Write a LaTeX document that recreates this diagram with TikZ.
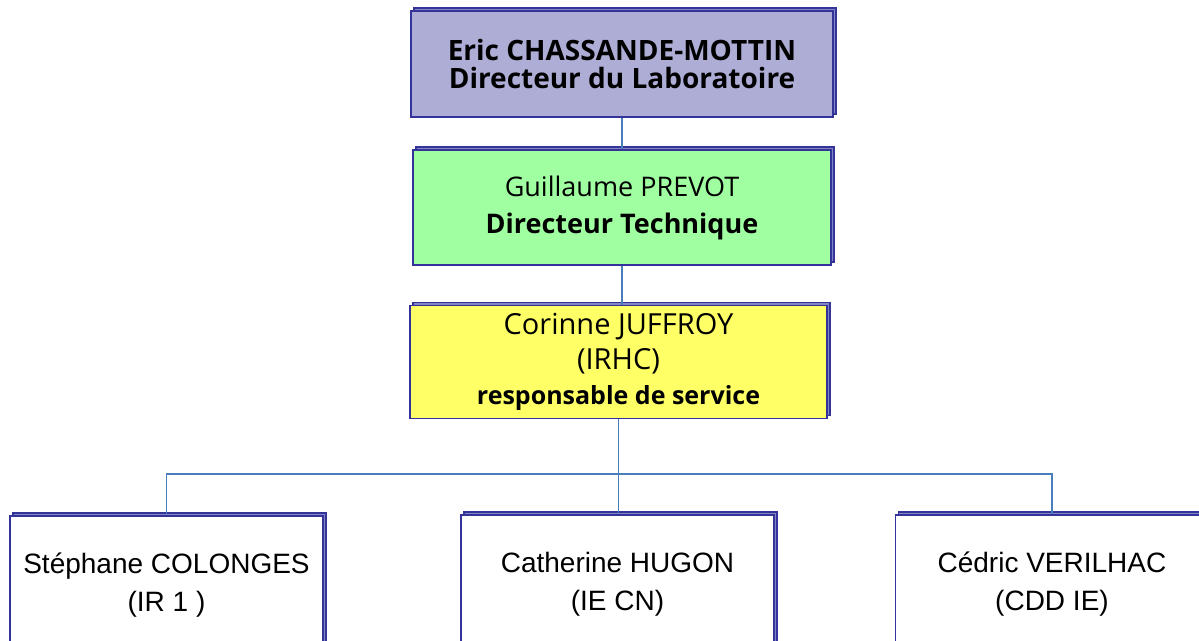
\documentclass[tikz,border=0pt]{standalone}
\usepackage{fontspec}
\setmainfont{Liberation Sans}
\newfontfamily\comicfont{Open Sans}
\definecolor{orgblue}{RGB}{51,51,153}
\definecolor{orglavender}{RGB}{173,173,214}
\definecolor{orggreen}{RGB}{160,255,160}
\definecolor{orgyellow}{RGB}{255,255,102}
\definecolor{orgline}{RGB}{74,126,187}
\usetikzlibrary{positioning,shadows}

\begin{document}
\begin{tikzpicture}[x=0.5pt,y=-0.5pt,
  box/.style={draw=orgblue,line width=0.6pt,align=center,inner sep=0pt,
    copy shadow={shadow xshift=1.5pt,shadow yshift=1.5pt,draw=orgblue,fill=orgblue!60,line width=0.6pt}},
  conn/.style={draw=orgline,line width=0.9pt}]
  \useasboundingbox (0,0) rectangle (1199,641);
  \clip (0,0) rectangle (1199,641);
  % Direction
  \node[box,fill=orglavender,minimum width=211pt,minimum height=53pt,
    font=\comicfont\bfseries\fontsize{14}{14}\selectfont] (lab) at (622,64)
    {Eric CHASSANDE-MOTTIN\\Directeur du Laboratoire};
  \node[box,fill=orggreen,minimum width=209pt,minimum height=57.5pt,
    font=\comicfont\fontsize{13.5}{18.5}\selectfont] (tech) at (622,207.5)
    {Guillaume PREVOT\\\textbf{Directeur Technique}};
  \node[box,fill=orgyellow,minimum width=208.5pt,minimum height=56.5pt,
    font=\comicfont\fontsize{14.5}{17.5}\selectfont] (resp) at (618.5,362)
    {Corinne JUFFROY\\(IRHC)\\\textbf{\fontsize{12.5}{17.5}\selectfont responsable de service}};
  % Service
  \node[box,fill=white,minimum width=156.5pt,minimum height=69pt,
    font=\fontsize{14}{19}\selectfont] (colonges) at (166.5,585)
    {Stéphane COLONGES\\(IR 1 )};
  \node[box,fill=white,minimum width=156.5pt,minimum height=69pt,
    font=\fontsize{14}{19}\selectfont] (hugon) at (617.5,584)
    {Catherine HUGON\\(IE CN)};
  \node[box,fill=white,minimum width=156.5pt,minimum height=69pt,
    font=\fontsize{14}{19}\selectfont] (verilhac) at (1052,584)
    {Cédric VERILHAC\\(CDD IE)};
  % Links
  \coordinate (bus) at (617.5,474);
  \draw[conn] (lab.south) -- (tech.north);
  \draw[conn] (tech.south) -- (tech.south |- resp.north);
  \draw[conn] (resp.south) -- (resp.south |- hugon.north);
  \draw[conn] (colonges.north) |- (bus) -| (verilhac.north);
\end{tikzpicture}
\end{document}
